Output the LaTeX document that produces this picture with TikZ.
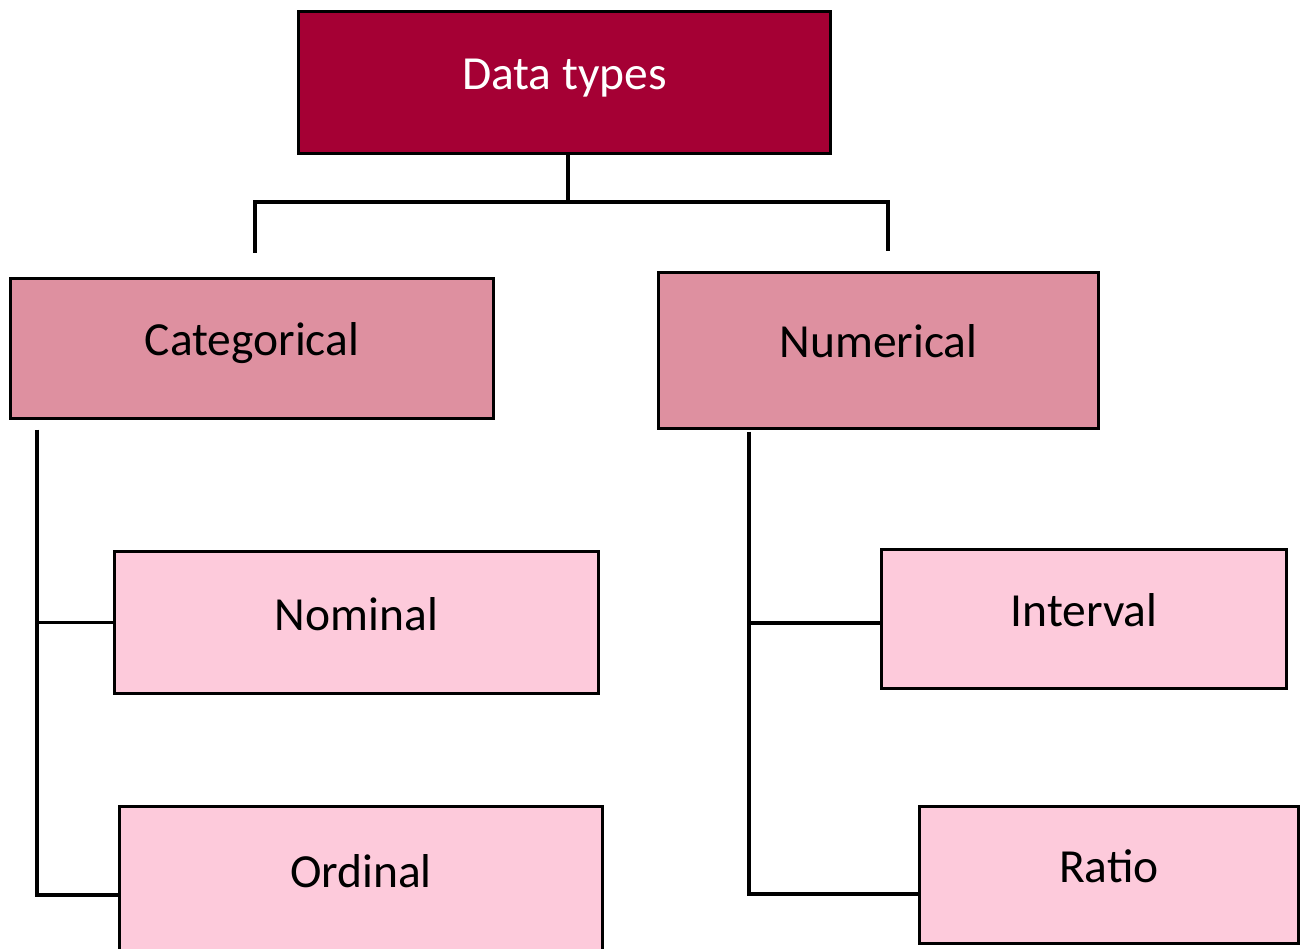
\documentclass[tikz,border=0pt]{standalone}
\usepackage{fontspec}
\setmainfont{Carlito}
\definecolor{darkred}{RGB}{165,0,52}
\definecolor{midpink}{RGB}{222,144,160}
\definecolor{lightpink}{RGB}{253,202,219}
\begin{document}
\begin{tikzpicture}[x=1pt,y=-1pt,
  box/.style={draw=black,line width=3pt,inner sep=0pt,text height=33pt,text depth=18pt,font=\fontsize{47.5}{57}\selectfont},
  topbox/.style={box,fill=darkred,text=white},
  midbox/.style={box,fill=midpink},
  leafbox/.style={box,fill=lightpink},
  conn/.style={draw=black,line width=3.2pt}]
\useasboundingbox (0,0) rectangle (1302,949);
\clip (0,0) rectangle (1302,949);
\node[topbox,minimum width=532pt,minimum height=142pt] (dt) at (564.5,82.5) {Data types};
\node[midbox,minimum width=483pt,minimum height=140pt] (cat) at (252,348.5) {Categorical};
\node[midbox,minimum width=440pt,minimum height=156pt] (num) at (878.5,350.5) {Numerical};
\node[leafbox,minimum width=484pt,minimum height=142pt] (nom) at (356.5,622.5) {Nominal};
\node[leafbox,minimum width=483pt,minimum height=146pt] (ord) at (361,879.5) {Ordinal};
\node[leafbox,minimum width=405pt,minimum height=139pt] (int) at (1084,619) {Interval};
\node[leafbox,minimum width=379pt,minimum height=137pt] (rat) at (1109,875) {Ratio};
\coordinate (j) at (568,202);
\coordinate (tl) at (255,253);
\coordinate (tr) at (888,251);
\coordinate (cl) at (37,430);
\coordinate (cr) at (749,432);
\draw[conn] ([xshift=3.5pt]dt.south) -- (j);
\draw[conn] (tl) |- (j) -| (tr);
\draw[conn] (cl) |- (nom.west);
\draw[conn] (cl) |- ([yshift=-15.5pt]ord.west);
\draw[conn] (cr) |- ([yshift=-4pt]int.west);
\draw[conn] (cr) |- ([yshift=-19pt]rat.west);
\end{tikzpicture}
\end{document}
